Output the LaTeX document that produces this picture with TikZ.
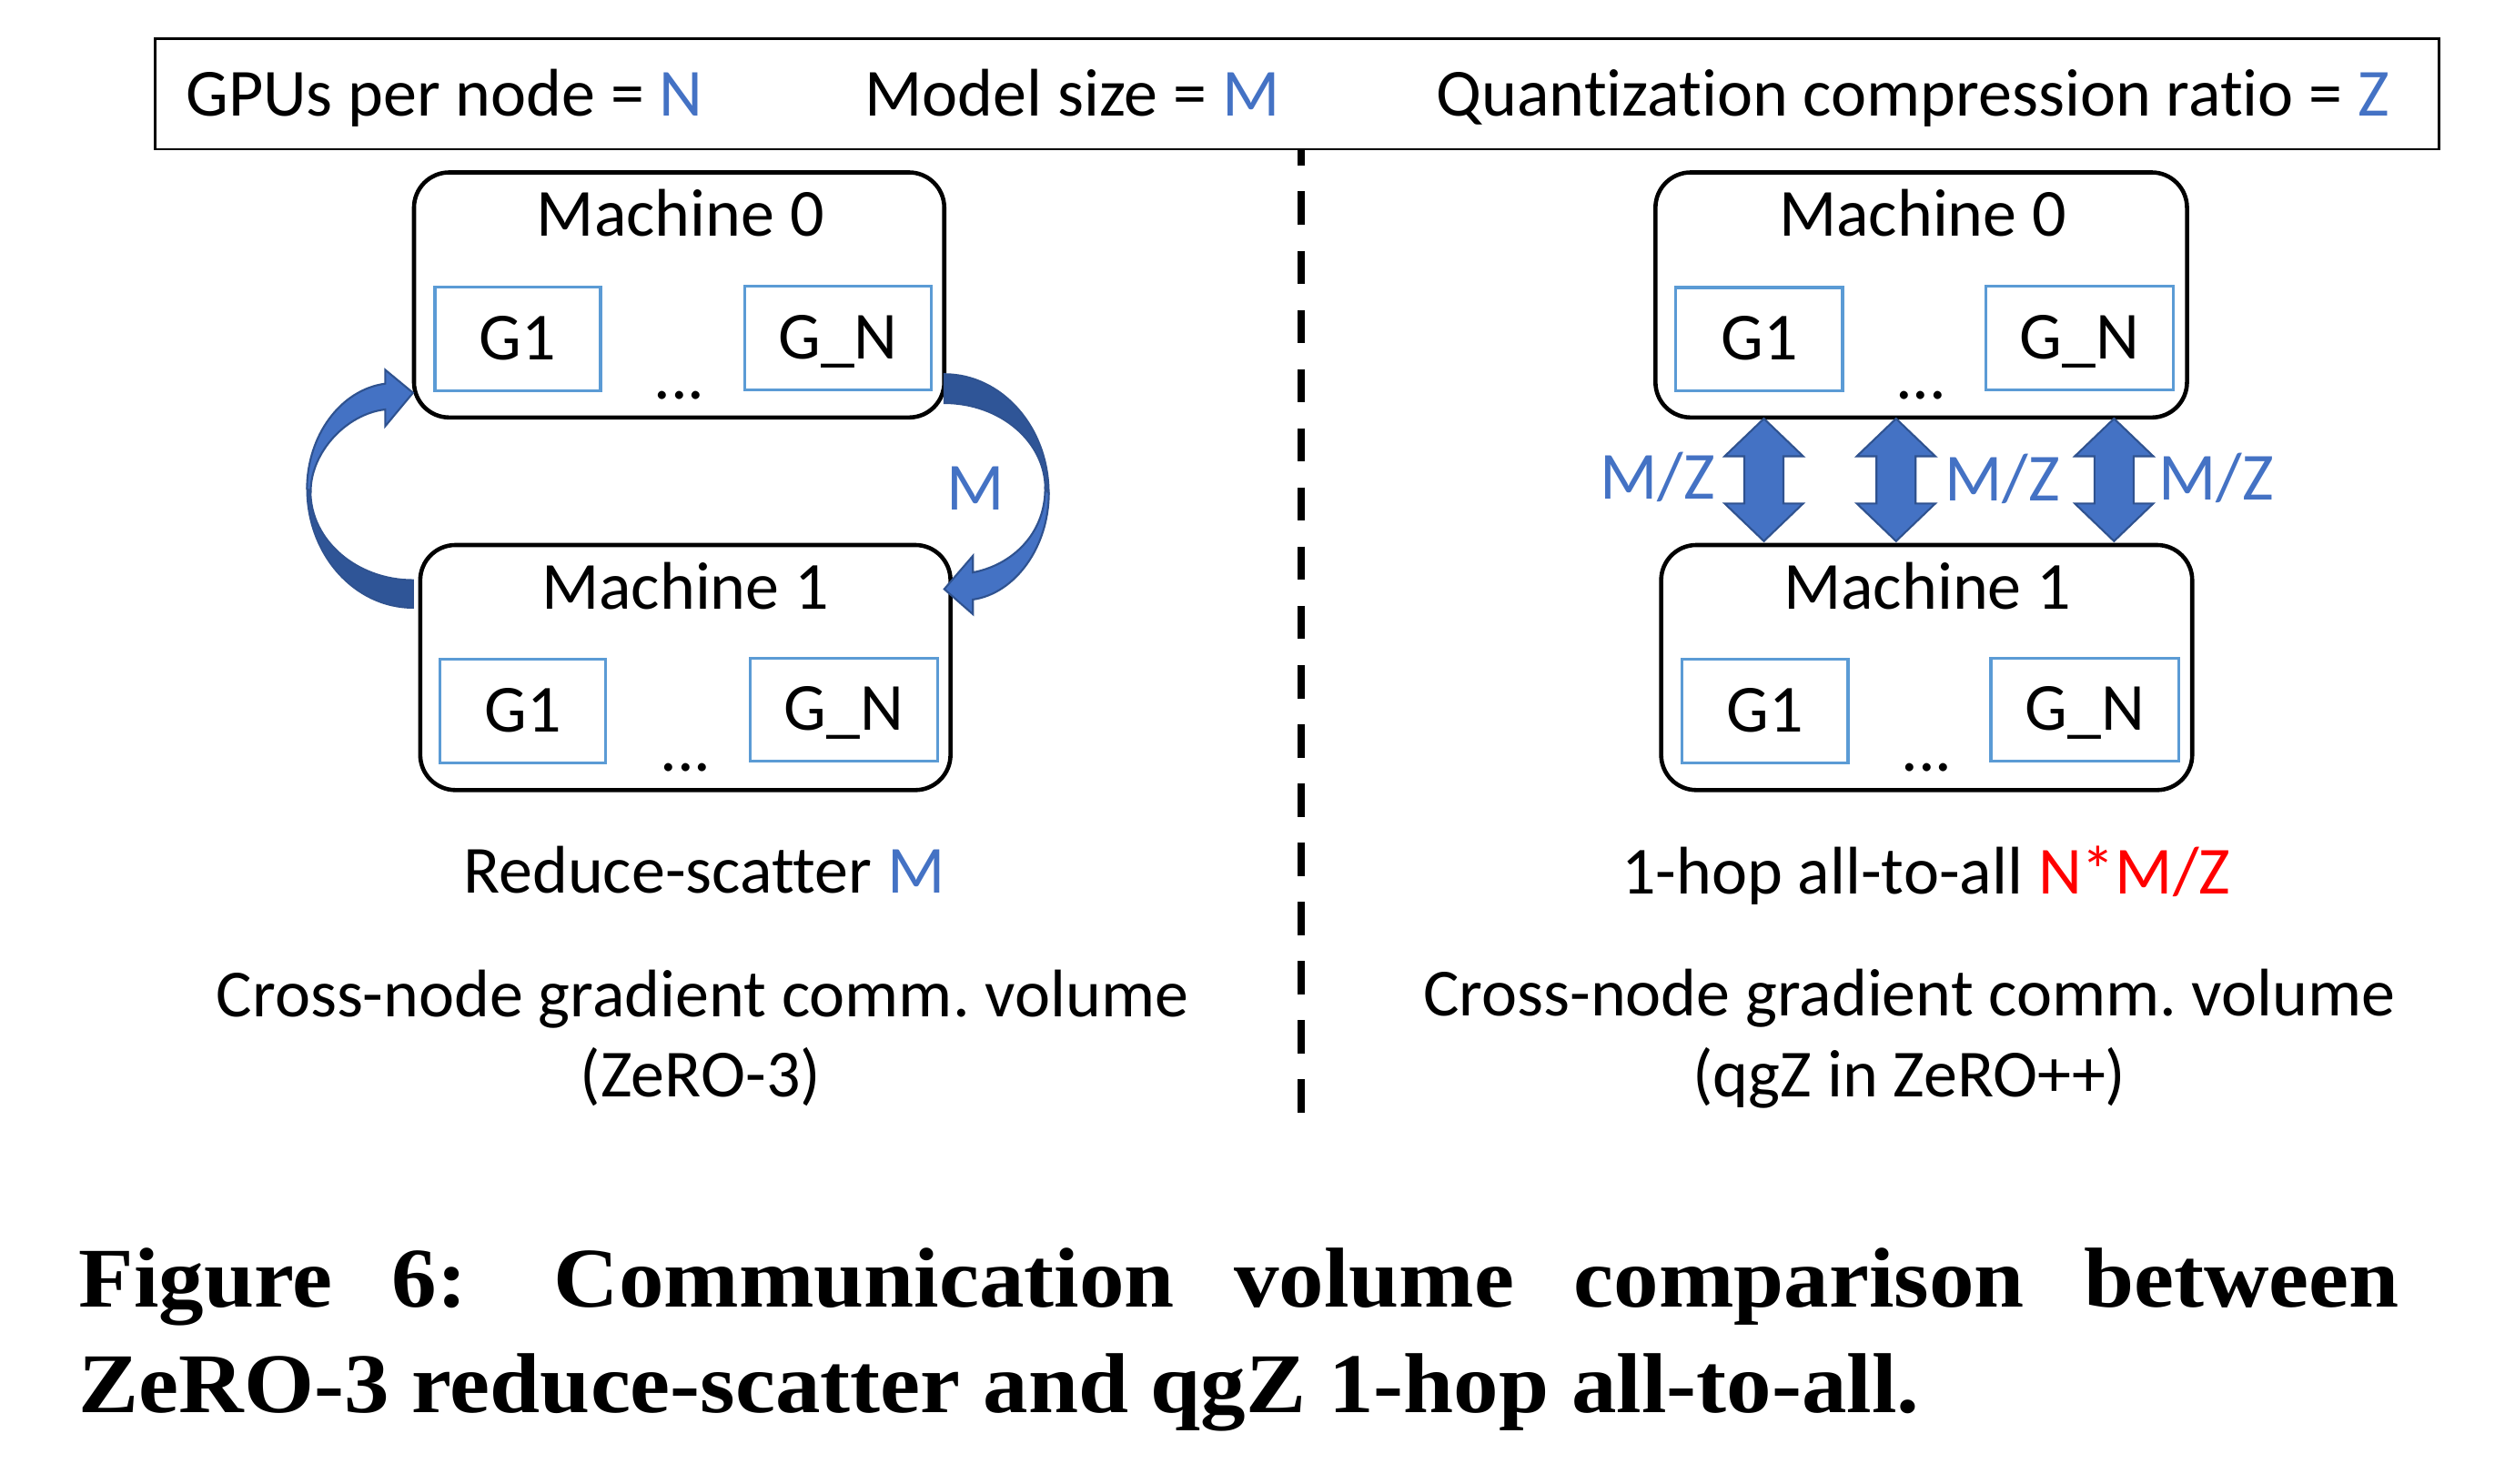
\documentclass[tikz,border=0pt]{standalone}
\usepackage{fontspec}
\setmainfont{Carlito}[Ligatures={NoCommon}]
\newfontfamily\capfont[FakeStretch=1.06]{Liberation Serif}
\newcommand{\dfont}{\fontsize{42}{50}\selectfont}
\definecolor{txtblue}{HTML}{4472C4}
\definecolor{gblue}{HTML}{5B9BD5}
\definecolor{arrblue}{HTML}{4472C4}
\definecolor{arrdark}{HTML}{2F5597}
\definecolor{arredge}{HTML}{2F528F}
\newcommand{\dblarr}[2]{%
  \filldraw[blockarr] (#1,261.0) coordinate (#2) -- ++(24.5,23.5) -- ++(-12.3,0) -- ++(0,29.4) -- ++(12.3,0)
    -- ++(-24.5,23.5) -- ++(-24.5,-23.5) -- ++(12.3,0) -- ++(0,-29.4) -- ++(-12.3,0) -- cycle;}
\begin{document}
\frenchspacing
\begin{tikzpicture}[x=1pt,y=-1pt,font=\dfont,
  machine/.style={draw=black,line width=2.6pt,rounded corners=22pt,minimum width=330.6pt,minimum height=152.8pt,inner sep=0pt},
  gpu/.style={draw=gblue,line width=1.8pt,minimum height=64.4pt,inner sep=0pt,text height=26pt,text depth=0pt},
  lbl/.style={anchor=base,inner sep=0pt},
  blockarr/.style={fill=arrblue,draw=arredge,line width=1.2pt,line join=miter},
  backarr/.style={fill=arrdark,draw=arredge,line width=1pt},
  caption/.style={anchor=base west,inner sep=0pt,font={\capfont\fontsize{53}{60}\selectfont\bfseries}}]
\useasboundingbox (0,0) rectangle (1568,925);

% legend
\node[draw,line width=1.6pt,minimum width=1423.7pt,minimum height=68.8pt,inner sep=0pt] (legend) at (808.8,58.6) {};
\node[lbl,anchor=base west] (lg1) at (115.7,72.2) {GPUs per node = \textcolor{txtblue}{N}};
\node[lbl,anchor=base west] (lg2) at (539.0,72.2) {Model size = \textcolor{txtblue}{M}};
\node[lbl,anchor=base west] (lg3) at (895.4,72.2) {Quantization compression ratio = \textcolor{txtblue}{Z}};

% divider
\coordinate (divtop) at (811,93);
\coordinate (divbot) at (811,694);
\draw[line width=4.5pt,dash pattern=on 20.8pt off 16.1pt,dash phase=10.5pt] (divtop) -- (divbot);

% ---------- left: ZeRO-3 ----------
\node[machine] (L0) at (423.4,183.9) {};
\node[lbl] (L0t) at (424.2,147.2) {Machine 0};
\node[gpu,minimum width=103.2pt] (L0g1) at (322.8,211.4) {G1};
\node[gpu,minimum width=116.3pt] (L0gn) at (522.5,210.7) {G\_N};
\node[lbl] (L0d) at (423.6,248.5) {...};

\node[machine] (L1) at (427.3,416.2) {};
\node[lbl] (L1t) at (427.2,379.8) {Machine 1};
\node[gpu,minimum width=103.3pt] (L1g1) at (326.1,443.3) {G1};
\node[gpu,minimum width=116.9pt] (L1gn) at (526.1,442.5) {G\_N};
\node[lbl] (L1d) at (427.5,480.6) {...};

% right curved arrow (Machine 0 -> Machine 1)
\filldraw[backarr] (588.7,233.2) .. controls (624.7,233.2) and (653.9,266.4) .. (653.9,307.4)
  -- (651.6,304.8) .. controls (651.6,275.3) and (623.4,251.4) .. (588.7,251.4) -- cycle;
\filldraw[blockarr] (653.9,307.4) .. controls (653.9,341) and (633,370) .. (606.6,373.8)
  -- (606.6,383.0) -- (588.7,367.3) -- (606.6,346.5) -- (606.6,356.9)
  .. controls (632,352) and (651.6,332) .. (651.6,304.8) -- cycle;
\node[lbl,text=txtblue] (Mlbl) at (608.3,317.8) {M};

% left curved arrow (Machine 1 -> Machine 0)
\filldraw[backarr] (257.5,379.0) .. controls (221.0,379.0) and (191.4,345.8) .. (191.4,304.8)
  -- (193.7,306.5) .. controls (193.7,336.7) and (222.3,361.6) .. (257.5,361.6) -- cycle;
\filldraw[blockarr] (191.4,304.8) .. controls (191.4,272) and (212,243) .. (240.2,239.2)
  -- (240.2,230.6) -- (257.5,244.9) -- (240.2,265.7) -- (240.2,255.3)
  .. controls (216,258) and (193.7,282) .. (193.7,306.5) -- cycle;

\node[lbl] (Lres) at (439.1,556.9) {Reduce-scatter \textcolor{txtblue}{M}};
\node[lbl] (Lc1) at (438.0,633.8) {Cross-node gradient comm. volume};
\node[lbl] (Lc2) at (436.8,683.6) {(ZeRO-3)};

% ---------- right: qgZ ----------
\node[machine,minimum width=331.4pt] (R0) at (1197.8,183.9) {};
\node[lbl] (R0t) at (1198.7,147.2) {Machine 0};
\node[gpu,minimum width=103.9pt] (R0g1) at (1096.8,211.5) {G1};
\node[gpu,minimum width=116.6pt] (R0gn) at (1296.6,210.7) {G\_N};
\node[lbl] (R0d) at (1197.6,248.5) {...};

\node[machine,minimum width=331.1pt] (R1) at (1201.2,416.2) {};
\node[lbl] (R1t) at (1201.6,379.8) {Machine 1};
\node[gpu,minimum width=103.8pt] (R1g1) at (1100.3,443.3) {G1};
\node[gpu,minimum width=117.2pt] (R1gn) at (1299.8,442.5) {G\_N};
\node[lbl] (R1d) at (1201.2,480.6) {...};

\dblarr{1099.7}{a1}
\dblarr{1182.1}{a2}
\dblarr{1318.0}{a3}
\node[lbl,text=txtblue] (mz1) at (1033.5,311.3) {M/Z};
\node[lbl,text=txtblue] (mz2) at (1248.3,312.3) {M/Z};
\node[lbl,text=txtblue] (mz3) at (1381.8,312.0) {M/Z};

\node[lbl] (Rres) at (1200.8,557.4) {1-hop all-to-all \textcolor{red}{N*M/Z}};
\node[lbl] (Rc1) at (1190.5,633.5) {Cross-node gradient comm. volume};
\node[lbl] (Rc2) at (1190.4,683.6) {(qgZ in ZeRO++)};

% caption
\node[caption] (cap1) at (49.1,815.0) {\hbox to 1446.5pt{Figure\hfill 6:\hspace{17pt}\hfill Communication\hfill volume\hfill comparison\hfill between}};
\node[caption] (cap2) at (49.1,880.8) {ZeRO-3 reduce-scatter and qgZ 1-hop all-to-all.};
\end{tikzpicture}
\end{document}
